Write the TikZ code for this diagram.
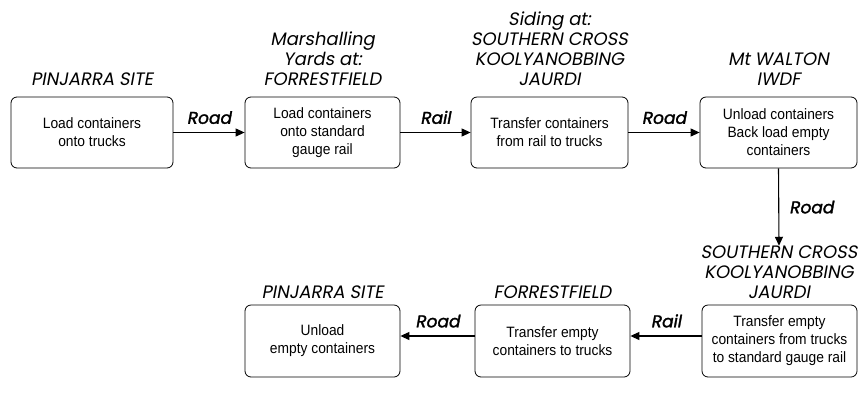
\documentclass[tikz,border=0pt]{standalone}
\usepackage{fontspec}
\setmainfont{Liberation Sans}[FakeStretch=0.92]
\newfontfamily\placefont{Poppins}[FakeSlant=0.18]
\newfontfamily\modefont{Poppins}[FakeSlant=0.18,FakeBold=1.8]
\usetikzlibrary{arrows.meta,calc}
\begin{document}
\begin{tikzpicture}[x=1pt,y=-1pt,
  stage/.style={draw,line width=0.8pt,rounded corners=6pt,inner sep=0pt,
    minimum height=71pt,align=center,
    font=\fontsize{15}{18}\selectfont},
  place/.style={inner sep=0pt,align=center,anchor=south,
    font=\placefont\fontsize{18}{20}\selectfont},
  mode/.style={inner sep=0pt,font=\modefont\fontsize{17}{18}\selectfont},
  flow/.style={line width=1.1pt,-{Triangle[length=9pt,width=8pt]}}]
\useasboundingbox (0,0) rectangle (859,400);

% outbound stages
\node[stage,minimum width=162pt] (s1) at (92,132.5) {Load containers\\onto trucks};
\node[stage,minimum width=155pt] (s2) at (322.5,132.5) {Load containers\\onto standard\\gauge rail};
\node[stage,minimum width=157pt] (s3) at (549.5,132.5) {Transfer containers\\from rail to trucks};
\node[stage,minimum width=157pt] (s4) at (778.5,132.5) {Unload containers\\Back load empty\\containers};

% return stages
\node[stage,minimum width=155pt,minimum height=72pt] (r3) at (322.5,341) {Unload\\empty containers};
\node[stage,minimum width=155pt,minimum height=72pt] (r2) at (552.5,341) {Transfer empty\\containers to trucks};
\node[stage,minimum width=155pt,minimum height=72pt] (r1) at (779.5,341) {Transfer empty\\containers from trucks\\to standard gauge rail};

% site names
\node[place] (p1) at (92,86) {PINJARRA SITE};
\node[place] (p2) at (322.5,86) {Marshalling\\Yards at:\\FORRESTFIELD};
\node[place] (p3) at (549.5,86) {Siding at:\\SOUTHERN CROSS\\KOOLYANOBBING\\JAURDI};
\node[place] (p4) at (778.5,86) {Mt WALTON\\IWDF};
\node[place] (q1) at (779,299) {SOUTHERN CROSS\\KOOLYANOBBING\\JAURDI};
\node[place] (q2) at (552.5,299) {FORRESTFIELD};
\node[place] (q3) at (322.5,299) {PINJARRA SITE};

% transport links
\draw[flow] (s1) -- (s2) node[mode,midway,above=8pt] (m1) {Road};
\draw[flow] (s2) -- (s3) node[mode,midway,above=8pt] (m2) {Rail};
\draw[flow] (s3) -- (s4) node[mode,midway,above=8pt] (m3) {Road};
\draw[flow] (s4.south) -- (q1.north) node[mode,midway,right=10pt] (m4) {Road};
\draw[flow] ($(r1.west)+(0,-5)$) -- ($(r2.east)+(0,-5)$) node[mode,midway,above=8pt] (m5) {Rail};
\draw[flow] ($(r2.west)+(0,-5)$) -- ($(r3.east)+(0,-5)$) node[mode,midway,above=8pt] (m6) {Road};
\end{tikzpicture}
\end{document}
